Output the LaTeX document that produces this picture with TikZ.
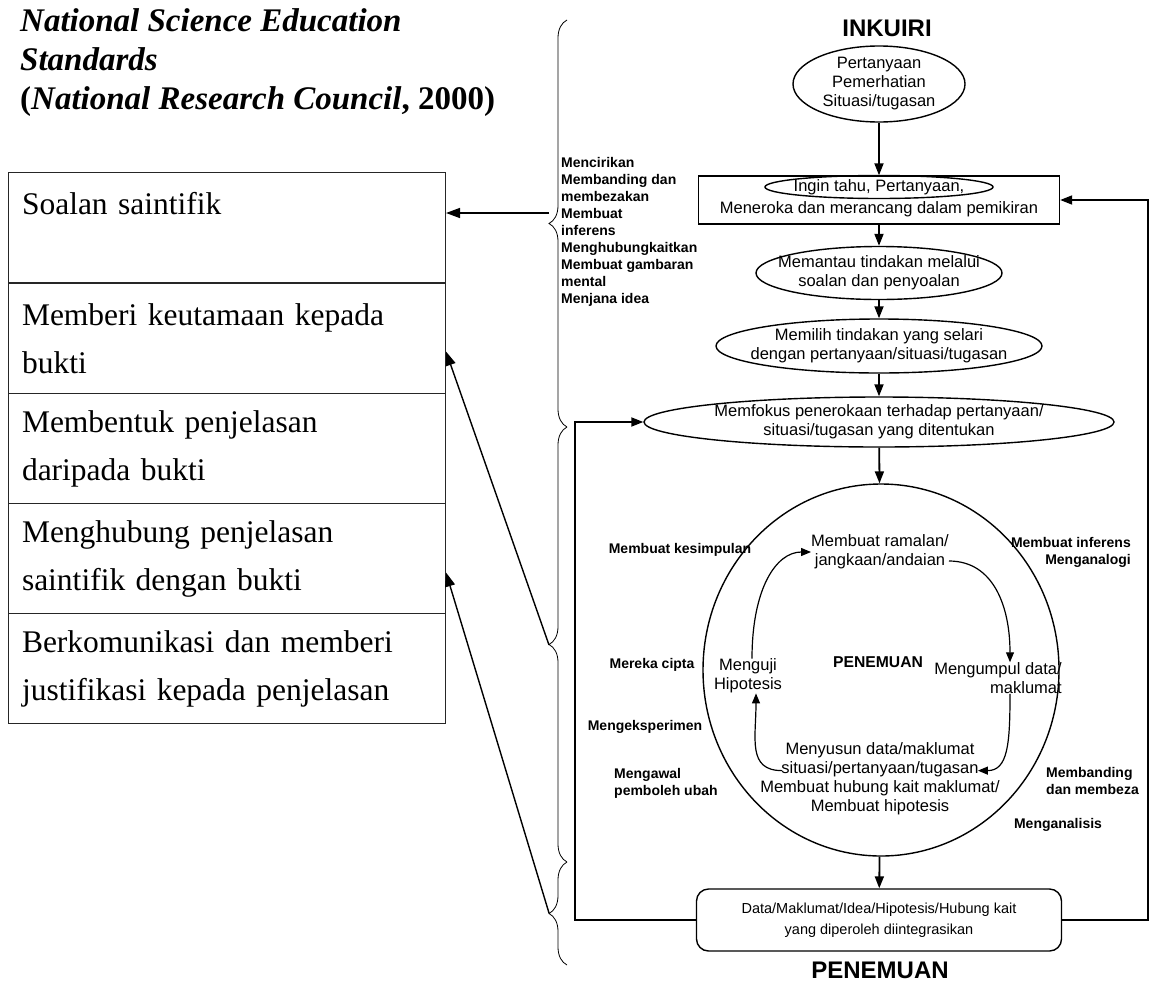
\documentclass[tikz,border=0pt]{standalone}
\usepackage{fontspec}
\setmainfont{Liberation Serif}
\setsansfont{Liberation Sans}
\usetikzlibrary{arrows.meta,shapes.geometric,decorations.pathreplacing,positioning}

\tikzset{
  banner/.style={font=\bfseries\fontsize{33}{39}\selectfont,align=left,anchor=north west,inner sep=0pt},
  cell/.style={draw=black!85,line width=1pt,anchor=north west,minimum width=437pt,minimum height=110pt,text width=410pt,align=left,inner xsep=13pt,font=\fontsize{31.5}{48}\selectfont},
  flow/.style={font=\sffamily\fontsize{16.5}{19}\selectfont,align=center,inner sep=0pt},
  oval/.style={draw,ellipse,line width=1.4pt,inner sep=0pt},
  tag/.style={font=\sffamily\bfseries\fontsize{14}{17}\selectfont,align=left,inner sep=0pt},
  heading/.style={font=\sffamily\bfseries\fontsize{24}{28}\selectfont,inner sep=0pt},
  flowarr/.style={-{Triangle[length=12pt,width=9pt]},line width=1.8pt},
  cyclearr/.style={-{Triangle[length=10pt,width=8pt]},line width=1.2pt},
  notearr/.style={-{Triangle[length=14pt,width=10pt]},line width=1.4pt},
  curb/.style={decorate,decoration={brace,amplitude=18pt},line width=0.8pt},
}

\begin{document}
\begin{tikzpicture}[x=1pt,y=-1pt]
\useasboundingbox (0,0) rectangle (1150,985);
\node[banner] (h0) at (20,8) {\textit{National Science Education}\\\textit{Standards}\\(\textit{National Research Council}, 2000)};
\node[cell] (b1) at (8,172) {Soalan saintifik\\\mbox{}};
\node[cell] (b2) at (8,283) {Memberi keutamaan kepada\\bukti};
\node[cell] (b3) at (8,393) {Membentuk penjelasan\\daripada bukti};
\node[cell] (b4) at (8,503) {Menghubung penjelasan\\saintifik dengan bukti};
\node[cell] (b5) at (8,613) {Berkomunikasi dan memberi\\justifikasi kepada penjelasan};
\draw[curb] (567,427) -- (567,20);
\draw[curb] (567,862) -- (567,427);
\draw[curb] (567,965) -- (567,862);
\coordinate (k1) at (549,213);
\coordinate (k2) at (549,645);
\coordinate (k3) at (549,913);
\draw[notearr] (k1) -- (k1 -| b1.east);
\draw[notearr] (k2) -- ([yshift=-13pt]b2.east);
\draw[notearr] (k3) -- ([yshift=-14pt]b4.east);
\node[heading] (n0) at (887,28) {INKUIRI};
\node[oval,minimum width=172,minimum height=76,label={[flow]center:{Pertanyaan\\Pemerhatian\\Situasi/tugasan}}] (e1) at (879,84) {};
\node[draw,line width=1.4pt,minimum width=361,minimum height=48] (b0) at (879,200) {};
\node[oval,minimum width=228,minimum height=23,label={[flow]center:{Ingin tahu, Pertanyaan,}}] (q0) at (879,187) {};
\node[flow] (q1) at (879,209) {Meneroka dan merancang dalam pemikiran};
\node[oval,minimum width=246,minimum height=53,label={[flow]center:{Memantau tindakan melalui\\soalan dan penyoalan}}] (e2) at (879,273) {};
\node[oval,minimum width=326,minimum height=54,label={[flow]center:{Memilih tindakan yang selari\\dengan pertanyaan/situasi/tugasan}}] (e3) at (879,346) {};
\node[oval,minimum width=470,minimum height=50,label={[flow]center:{Memfokus penerokaan terhadap pertanyaan/\\situasi/tugasan yang ditentukan}}] (e4) at (879,422) {};
\node[oval,minimum width=356,minimum height=372] (c0) at (881,670) {};
\node[draw,line width=1.4pt,rounded corners=12pt,minimum width=365,minimum height=62,flow,font=\sffamily\fontsize{14.5}{21}\selectfont] (d0) at (879,920) {Data/Maklumat/Idea/Hipotesis/Hubung kait\\yang diperoleh diintegrasikan};
\node[heading] (n1) at (880,970) {PENEMUAN};
\node[flow] (r1) at (880,552) {Membuat ramalan/\\jangkaan/andaian};
\node[flow,align=right] (r2) at (998,678) {Mengumpul data/\\maklumat};
\node[flow] (r3) at (880,779) {Menyusun data/maklumat\\situasi/pertanyaan/tugasan\\Membuat hubung kait maklumat/\\Membuat hipotesis};
\node[flow] (r4) at (748,676) {Menguji\\Hipotesis};
\node[heading,font=\sffamily\bfseries\fontsize{15.7}{18}\selectfont] (n2) at (878,662) {PENEMUAN};
\node[tag,anchor=north west] (t1) at (561,157) {Mencirikan\\Membanding dan\\membezakan\\Membuat\\inferens\\Menghubungkaitkan\\Membuat gambaran\\mental\\Menjana idea};
\node[tag] (t2) at (680,550) {Membuat kesimpulan};
\node[tag] (t3) at (652,665) {Mereka cipta};
\node[tag] (t4) at (645,727) {Mengeksperimen};
\node[tag,anchor=west] (t5) at (614,783) {Mengawal\\pemboleh ubah};
\node[tag,align=right,anchor=east] (t6) at (1131,552) {Membuat inferens\\Menganalogi};
\node[tag,anchor=west] (t7) at (1046,781) {Membanding\\dan membeza};
\node[tag] (t8) at (1058,825) {Menganalisis};
\draw[flowarr] (e1) -- (b0);
\draw[flowarr] (b0) -- (e2);
\draw[flowarr] (e2) -- (e3);
\draw[flowarr] (e3) -- (e4);
\draw[flowarr] (e4) -- (c0);
\draw[flowarr] (c0) -- (d0);
\draw[flowarr] (d0.east) -| ([xshift=88pt]b0.east) -- (b0.east);
\draw[flowarr] (d0.west) -| ([xshift=-68pt]e4.west) -- (e4.west);
\draw[cyclearr] ([yshift=-9pt]r1.east) .. controls +(45,0) and +(0,-55) .. ([xshift=12pt]r2.north);
\draw[cyclearr] ([xshift=12pt]r2.south) .. controls +(0,50) and +(30,0) .. ([shift={(-22,28)}]r3.north east);
\draw[cyclearr] ([shift={(22,28)}]r3.north west) .. controls +(-35,0) and +(0,45) .. ([xshift=8pt]r4.south);
\draw[cyclearr] ([xshift=4pt]r4.north) .. controls +(0,-70) and +(-35,0) .. (r1.west);
\end{tikzpicture}
\end{document}
